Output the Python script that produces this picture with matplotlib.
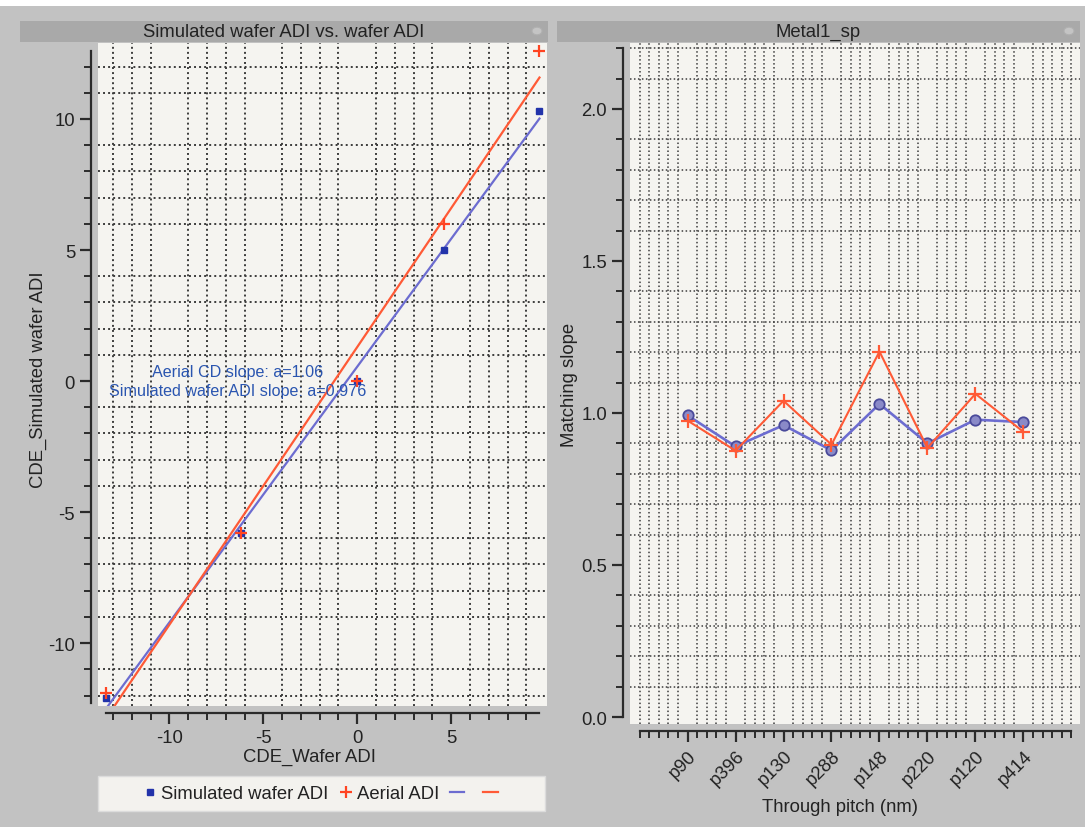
import numpy as np
import matplotlib
matplotlib.use("Agg")
import matplotlib.pyplot as plt
from matplotlib.patches import Rectangle, Circle
from matplotlib.lines import Line2D
from matplotlib.ticker import MultipleLocator, FixedLocator, FormatStrFormatter

plt.rcParams['font.family'] = ['Liberation Sans', 'DejaVu Sans']
plt.rcParams['axes.unicode_minus'] = False

# ---- data: simulated vs wafer ADI (CD error) ----
wafer_adi = [-13.4, -6.2, 0.0, 4.6, 9.7]
simulated_adi = [-12.1, -5.8, 0.0, 5.0, 10.3]
aerial_adi = [-11.9, -5.8, 0.0, 6.0, 12.6]
aerial_slope = 1.06
aerial_intercept = 1.3
sim_slope = 0.976
sim_intercept = 0.55

# ---- data: matching slope per pitch ----
pitches = ["p90", "p396", "p130", "p288", "p148", "p220", "p120", "p414"]
slope_simulated = [0.992, 0.890, 0.960, 0.877, 1.030, 0.900, 0.978, 0.970]
slope_aerial = [0.975, 0.876, 1.040, 0.896, 1.202, 0.885, 1.063, 0.938]

W, H = 1085, 828
FS = 13.3
fig = plt.figure(figsize=(W / 100, H / 100), dpi=100, facecolor='#c2c2c2')


def fx(px):
    return px / W


def fy(py):
    return 1 - py / H


# white strip along the top edge
fig.patches.append(Rectangle((0, fy(7)), 1, 7 / H, transform=fig.transFigure,
                             facecolor='white', edgecolor='none', zorder=0))

BLUE_LINE = '#6c6cd0'
RED_LINE = '#ff5a36'
BLUE_MARK = '#2233aa'
RED_MARK = '#ff4422'
PLOT_BG = '#f5f4f0'
SPINE = '#2b2b2b'
TEXT = '#222222'


def title_bar(x0, x1, text):
    fig.patches.append(Rectangle((fx(x0), fy(43)), fx(x1 - x0), 21 / H,
                                 transform=fig.transFigure, facecolor='#a9a9a9',
                                 edgecolor='none', zorder=1))
    fig.text(fx((x0 + x1) / 2), fy(32.5), text, ha='center', va='center',
             fontsize=FS, color=TEXT)
    fig.patches.append(Circle((fx(x1 - 11), fy(32)), 5 / W, transform=fig.transFigure,
                              facecolor='#c4c4c4', edgecolor='#b0b0b0', lw=0.8, zorder=2))


def style_axes(ax):
    ax.set_facecolor(PLOT_BG)
    for s in ('top', 'right'):
        ax.spines[s].set_visible(False)
    for s in ('left', 'bottom'):
        ax.spines[s].set_position(('outward', 5))
        ax.spines[s].set_color(SPINE)
        ax.spines[s].set_linewidth(1.6)
    ax.tick_params(which='major', length=8, width=1.6, color=SPINE,
                   labelsize=FS, labelcolor=TEXT)
    ax.tick_params(which='minor', length=5, width=1.4, color=SPINE)
    ax.set_axisbelow(True)


# ================= left panel =================
title_bar(20, 548, "Simulated wafer ADI vs. wafer ADI")
ax1 = fig.add_axes([fx(98), fy(707), fx(547 - 98), (707 - 44) / H])
style_axes(ax1)
ax1.set_xlim(-13.8, 10.1)
ax1.set_ylim(-12.4, 12.9)
ax1.xaxis.set_major_locator(FixedLocator([-10, -5, 0, 5]))
ax1.xaxis.set_minor_locator(FixedLocator(np.arange(-13, 10, 1)))
ax1.yaxis.set_major_locator(FixedLocator([-10, -5, 0, 5, 10]))
ax1.yaxis.set_minor_locator(FixedLocator(np.arange(-12, 13, 1)))
ax1.spines['left'].set_bounds(-12.3, 12.6)
ax1.spines['bottom'].set_bounds(-13.4, 9.7)
ax1.grid(True, which='minor', color='#3c3c3c', linestyle=(0, (1, 1.6)), linewidth=1.4)

xfit = np.array([min(wafer_adi), max(wafer_adi)])
ax1.plot(xfit, sim_slope * xfit + sim_intercept, color=BLUE_LINE, lw=1.6, zorder=3)
ax1.plot(xfit, aerial_slope * xfit + aerial_intercept, color=RED_LINE, lw=1.6, zorder=3)
ax1.plot(wafer_adi, simulated_adi, linestyle='none', marker='s', markersize=4.5,
         color=BLUE_MARK, zorder=4)
ax1.plot(wafer_adi, aerial_adi, linestyle='none', marker='+', markersize=9,
         markeredgewidth=1.6, color=RED_MARK, zorder=5)

ax1.text(-6.35, 0.36, f"Aerial CD slope: a={aerial_slope}", ha='center', va='center',
         fontsize=11.6, color='#2a55b0', zorder=6)
ax1.text(-6.35, -0.37, f"Simulated wafer ADI slope: a={sim_slope}", ha='center',
         va='center', fontsize=11.6, color='#2a55b0', zorder=6)

fig.text(fx(38), fy(380), "CDE_Simulated wafer ADI", rotation=90, ha='center',
         va='center', fontsize=FS, color=TEXT)
fig.text(fx(309), fy(757), "CDE_Wafer ADI", ha='center', va='center',
         fontsize=FS, color=TEXT)

# legend box under the left panel
fig.patches.append(Rectangle((fx(98), fy(812)), fx(545 - 98), 35 / H,
                             transform=fig.transFigure, facecolor='#f3f2ee',
                             edgecolor='#dcdcdc', lw=1, zorder=1))
handles = [
    Line2D([], [], linestyle='none', marker='s', markersize=4.5, color=BLUE_MARK),
    Line2D([], [], linestyle='none', marker='+', markersize=9, markeredgewidth=1.6,
           color=RED_MARK),
    Line2D([], [], color=BLUE_LINE, lw=1.6),
    Line2D([], [], color=RED_LINE, lw=1.6),
]
leg = fig.legend(handles, ["Simulated wafer ADI", "Aerial ADI", " ", " "], ncol=4,
                 loc='center', bbox_to_anchor=(fx(325), fy(795)), frameon=False,
                 fontsize=FS, handlelength=0.8, handletextpad=0.2,
                 columnspacing=0.55, borderpad=0)
for t in leg.get_texts():
    t.set_color(TEXT)

# ================= right panel =================
title_bar(557, 1080, "Metal1_sp")
ax2 = fig.add_axes([fx(630), fy(725), fx(1080 - 630), (725 - 44) / H])
style_axes(ax2)
xpos = np.arange(len(pitches))
ax2.set_xlim(-1.2, 8.18)
ax2.set_ylim(-0.023, 2.217)
ax2.xaxis.set_major_locator(FixedLocator(xpos))
ax2.xaxis.set_minor_locator(FixedLocator(np.round(np.arange(-1, 8.001, 0.2), 2)))
ax2.yaxis.set_major_locator(MultipleLocator(0.5))
ax2.yaxis.set_minor_locator(FixedLocator(np.round(np.arange(0, 2.201, 0.1), 2)))
ax2.yaxis.set_major_formatter(FormatStrFormatter('%.1f'))
ax2.spines['left'].set_bounds(0, 2.2)
ax2.spines['bottom'].set_bounds(-1, 8)
ax2.set_xticklabels(pitches, rotation=45, ha='right', rotation_mode='anchor')
ax2.grid(True, which='minor', color='#3c3c3c', linestyle=(0, (1, 1.6)), linewidth=1.1)

ax2.plot(xpos, slope_aerial, color=RED_LINE, lw=1.5, marker='+', markersize=10,
         markeredgewidth=1.6, zorder=4)
ax2.plot(xpos, slope_simulated, color=BLUE_LINE, lw=1.9, marker='o', markersize=7.5,
         markerfacecolor='#8a8ac8', markeredgecolor='#4a4a9a', markeredgewidth=1.3,
         zorder=3)

fig.text(fx(570), fy(385), "Matching slope", rotation=90, ha='center', va='center',
         fontsize=FS, color=TEXT)
fig.text(fx(840), fy(808), "Through pitch (nm)", ha='center', va='center',
         fontsize=FS, color=TEXT)

fig.savefig("out.png", dpi=100, facecolor=fig.get_facecolor())
